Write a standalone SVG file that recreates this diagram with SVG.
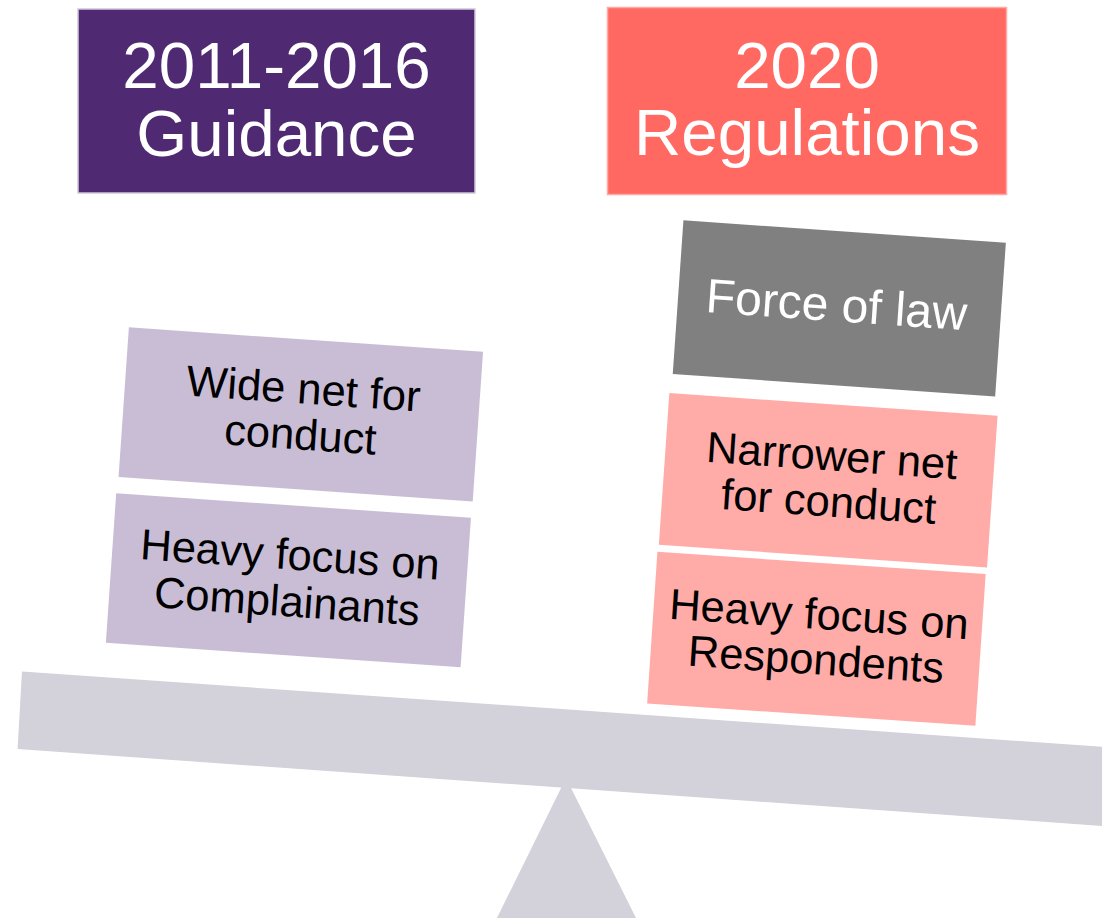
<svg xmlns="http://www.w3.org/2000/svg" width="1102" height="918" viewBox="0 0 1102 918">
<style>
text{font-family:"Liberation Sans",Arial,sans-serif;text-anchor:middle}
.title{font-size:65.5px;fill:#ffffff}
.body{font-size:43.5px;fill:#000000}
.law{font-size:48px;fill:#ffffff}
.lav{fill:#C9BDD6}
.pink{fill:#FFACA8}
.grey{fill:#808080}
.scale{fill:#D3D1D9}
</style>
<rect width="1102" height="918" fill="#ffffff"/>
<g id="fulcrum">
<polygon class="scale" points="566,778 495,922 638,922"/>
</g>
<g id="beam">
<polygon class="scale" points="22,671.5 1110,747.3 1110,826.5 17.6,749"/>
</g>
<g id="title-guidance">
<rect x="78" y="9" width="397" height="184" fill="#4F2A72" stroke="#CFC8D8" stroke-width="1.5"/>
<text class="title" x="276.5" y="88">2011-2016</text>
<text class="title" x="276.5" y="156">Guidance</text>
</g>
<g id="title-regulations">
<rect x="607.5" y="7.5" width="399" height="187" fill="#FF6961" stroke="#FFA9A5" stroke-width="1.5"/>
<text class="title" x="807" y="88">2020</text>
<text class="title" x="807" y="155">Regulations</text>
</g>
<g id="wide-net" transform="translate(300.8,414.4) rotate(3.95)">
<rect class="lav" x="-177.5" y="-75" width="355" height="150"/>
<text class="body" x="1" y="-11">Wide net for</text>
<text class="body" x="1" y="35">conduct</text>
</g>
<g id="complainants" transform="translate(288.4,580.3) rotate(3.95)">
<rect class="lav" x="-177.8" y="-75" width="355.6" height="150"/>
<text class="body" x="0" y="-11">Heavy focus on</text>
<text class="body" x="0" y="36">Complainants</text>
</g>
<g id="force-of-law" transform="translate(839.3,308.4) rotate(3.98)">
<rect class="grey" x="-161.6" y="-77" width="323.2" height="154"/>
<text class="law" x="-3" y="13">Force of law</text>
</g>
<g id="narrower-net" transform="translate(828.2,480.3) rotate(3.97)">
<rect class="pink" x="-164.5" y="-76" width="329" height="152"/>
<text class="body" x="2" y="-10">Narrower net</text>
<text class="body" x="2" y="36">for conduct</text>
</g>
<g id="respondents" transform="translate(816.4,638.8) rotate(3.88)">
<rect class="pink" x="-164.5" y="-76" width="329" height="152"/>
<text class="body" x="1" y="-10">Heavy focus on</text>
<text class="body" x="1" y="35.5">Respondents</text>
</g>
<g id="connectors"></g>
</svg>
